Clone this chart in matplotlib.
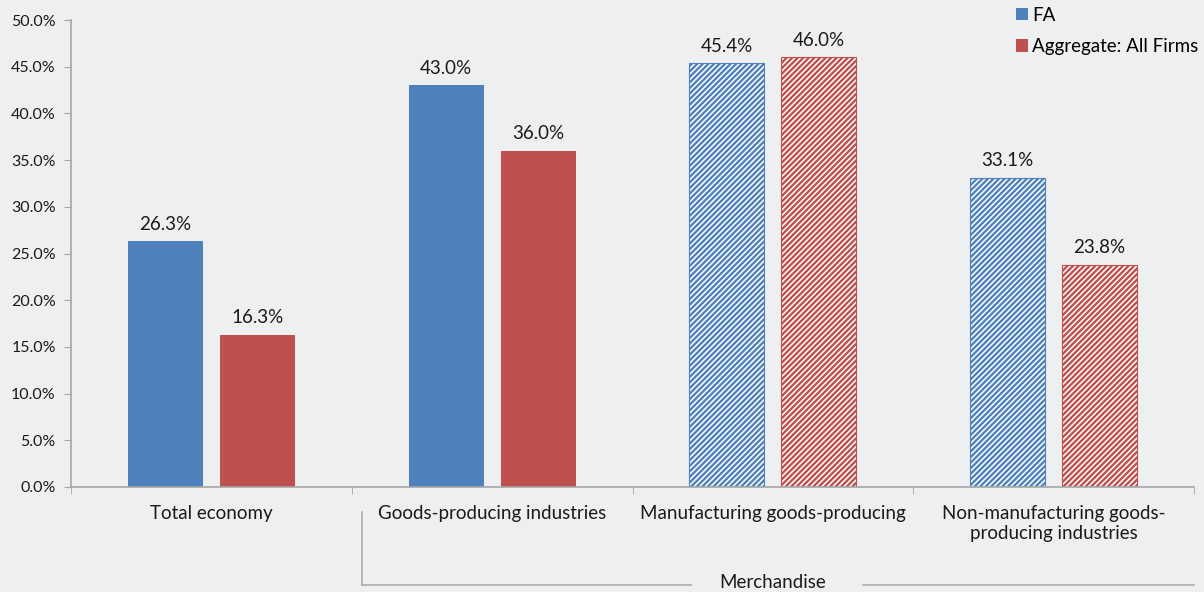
import matplotlib
matplotlib.use("Agg")
import matplotlib.pyplot as plt
from matplotlib.patches import Patch
from matplotlib.lines import Line2D
import numpy as np

categories = ["Total economy", "Goods-producing industries",
              "Manufacturing goods-producing", "Non-manufacturing goods-\nproducing industries"]
fa_values = [26.3, 43.0, 45.4, 33.1]
agg_values = [16.3, 36.0, 46.0, 23.8]
hatched = [False, False, True, True]
series_names = ["FA", "Aggregate: All Firms"]
y_ticks = [0, 5, 10, 15, 20, 25, 30, 35, 40, 45, 50]
group_label = "Merchandise"

BLUE = "#4F81BD"
RED = "#C0504D"
BG = "#EEEFF1"
AXIS = "#A6A6A6"
FONT = "Lato"
TXT = 13.5

plt.rcParams["font.family"] = [FONT, "DejaVu Sans"]
plt.rcParams["hatch.linewidth"] = 1.7

fig = plt.figure(figsize=(12.04, 5.92), dpi=100, facecolor=BG)
ax = fig.add_axes([71 / 1204, 1 - 487 / 592, (1194 - 71) / 1204, (487 - 20) / 592])
ax.set_facecolor(BG)

x = np.arange(len(categories))
width = 0.267
offset = 0.164

for i in range(len(categories)):
    for val, col, dx in ((fa_values[i], BLUE, -offset), (agg_values[i], RED, offset)):
        if hatched[i]:
            ax.bar(x[i] + dx, val, width, facecolor="white", edgecolor=col,
                   hatch="//////", linewidth=0.8, zorder=2)
        else:
            ax.bar(x[i] + dx, val, width, color=col, linewidth=0, zorder=2)
        ax.text(x[i] + dx, val + 0.9, f"{val:.1f}%", ha="center", va="bottom",
                fontsize=TXT, color="#1a1a1a")

ax.set_xlim(-0.5, len(categories) - 0.5)
ax.set_ylim(0, 50)
ax.set_yticks(y_ticks)
ax.set_yticklabels([f"{t:.1f}%" for t in y_ticks], fontsize=11.5, color="#1a1a1a")
ax.set_xticks(x)
ax.set_xticklabels(categories, fontsize=TXT, color="#1a1a1a", linespacing=1.2)
ax.set_xticks(np.arange(-0.5, len(categories)), minor=True)
ax.tick_params(axis="x", which="major", length=0, pad=13)
ax.tick_params(axis="x", which="minor", length=5, color=AXIS, direction="out")
ax.tick_params(axis="y", length=5, color=AXIS, pad=6)
for s in ("top", "right"):
    ax.spines[s].set_visible(False)
for s in ("left", "bottom"):
    ax.spines[s].set_color(AXIS)
    ax.spines[s].set_linewidth(1.2)

# Group bracket spanning the merchandise categories
tr = ax.get_xaxis_transform()
bx0 = 0.535
y_top, y_bot = -0.053, -0.209
ax.add_line(Line2D([bx0, bx0], [y_top, y_bot], transform=tr, color=AXIS,
                   linewidth=1.1, clip_on=False))
ax.add_line(Line2D([bx0, 1.71], [y_bot, y_bot], transform=tr, color=AXIS,
                   linewidth=1.1, clip_on=False))
ax.add_line(Line2D([2.32, 3.5], [y_bot, y_bot], transform=tr, color=AXIS,
                   linewidth=1.1, clip_on=False))
ax.text(2.0, -0.222, group_label, transform=tr, ha="center", va="bottom",
        fontsize=TXT, color="#1a1a1a")

handles = [Patch(facecolor=BLUE, edgecolor="none"), Patch(facecolor=RED, edgecolor="none")]
leg = fig.legend(handles, series_names, loc="upper left", bbox_to_anchor=(1016 / 1204, 1 - 7 / 592),
                 frameon=False, fontsize=TXT, handlelength=0.62, handleheight=0.62,
                 handletextpad=0.25, labelspacing=0.75, borderaxespad=0, borderpad=0)

fig.savefig("out.png", dpi=100, facecolor=BG)
